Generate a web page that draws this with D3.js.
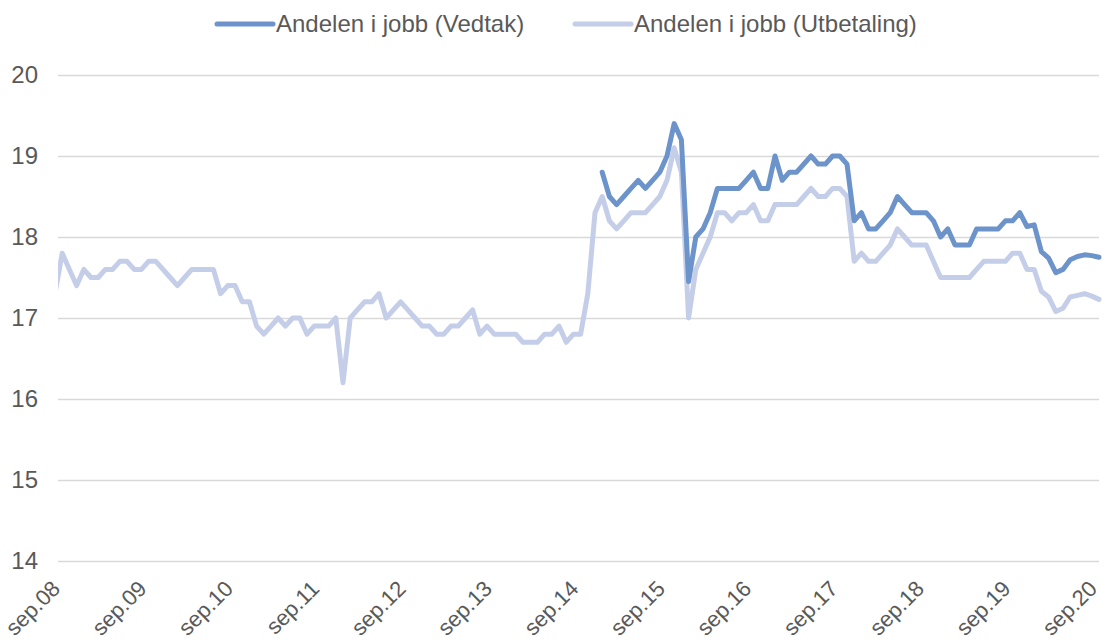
<!DOCTYPE html>
<html>
<head>
<meta charset="utf-8">
<script src="https://cdn.jsdelivr.net/npm/d3@7"></script>
<style>
  html, body { margin: 0; padding: 0; background: #fff; }
  svg { display: block; font-family: "Liberation Sans", Arial, sans-serif; }
</style>
</head>
<body>
<svg id="chart" width="1102" height="641"></svg>
<script>
// Andelen i jobb, monthly from sep.08
var seriesNames = ["Andelen i jobb (Vedtak)", "Andelen i jobb (Utbetaling)"];
var seriesColours = ["#6c94ca", "#c5cee9"];

var utbetaling = [
  17.3, 17.8, 17.6, 17.4, 17.6, 17.5, 17.5, 17.6, 17.6, 17.7, 17.7, 17.6,
  17.6, 17.7, 17.7, 17.6, 17.5, 17.4, 17.5, 17.6, 17.6, 17.6, 17.6, 17.3,
  17.4, 17.4, 17.2, 17.2, 16.9, 16.8, 16.9, 17.0, 16.9, 17.0, 17.0, 16.8,
  16.9, 16.9, 16.9, 17.0, 16.2, 17.0, 17.1, 17.2, 17.2, 17.3, 17.0, 17.1,
  17.2, 17.1, 17.0, 16.9, 16.9, 16.8, 16.8, 16.9, 16.9, 17.0, 17.1, 16.8,
  16.9, 16.8, 16.8, 16.8, 16.8, 16.7, 16.7, 16.7, 16.8, 16.8, 16.9, 16.7,
  16.8, 16.8, 17.3, 18.3, 18.5, 18.2, 18.1, 18.2, 18.3, 18.3, 18.3, 18.4,
  18.5, 18.7, 19.1, 18.8, 17.0, 17.6, 17.8, 18.0, 18.3, 18.3, 18.2, 18.3,
  18.3, 18.4, 18.2, 18.2, 18.4, 18.4, 18.4, 18.4, 18.5, 18.6, 18.5, 18.5,
  18.6, 18.6, 18.5, 17.7, 17.8, 17.7, 17.7, 17.8, 17.9, 18.1, 18.0, 17.9,
  17.9, 17.9, 17.7, 17.5, 17.5, 17.5, 17.5, 17.5, 17.6, 17.7, 17.7, 17.7,
  17.7, 17.8, 17.8, 17.6, 17.6, 17.33, 17.26, 17.08, 17.12, 17.26, 17.28, 17.3,
  17.27, 17.23
];

// Vedtak starts later (first value is month index 76)
var vedtakStart = 76;
var vedtak = [
  18.8, 18.5, 18.4, 18.5, 18.6, 18.7, 18.6, 18.7, 18.8, 19.0,
  19.4, 19.2, 17.45, 18.0, 18.1, 18.3, 18.6, 18.6, 18.6, 18.6,
  18.7, 18.8, 18.6, 18.6, 19.0, 18.7, 18.8, 18.8, 18.9, 19.0,
  18.9, 18.9, 19.0, 19.0, 18.9, 18.2, 18.3, 18.1, 18.1, 18.2,
  18.3, 18.5, 18.4, 18.3, 18.3, 18.3, 18.2, 18.0, 18.1, 17.9,
  17.9, 17.9, 18.1, 18.1, 18.1, 18.1, 18.2, 18.2, 18.3, 18.13,
  18.15, 17.82, 17.74, 17.56, 17.6, 17.72, 17.76, 17.78, 17.77, 17.75
];

var xTickLabels = ["sep.08", "sep.09", "sep.10", "sep.11", "sep.12", "sep.13", "sep.14",
  "sep.15", "sep.16", "sep.17", "sep.18", "sep.19", "sep.20"];
var yTicks = [14, 15, 16, 17, 18, 19, 20];

var textColour = "#595959";
var gridColour = "#d9d9d9";

var svg = d3.select("#chart");
var plotLeft = 58, plotRight = 1099;

var x = d3.scaleLinear()
  .domain([0, utbetaling.length - 1])
  .range([55, 1099]);

var y = d3.scaleLinear()
  .domain([14, 20])
  .range([561, 75]);

// clip so the first segment starts at the plot edge
svg.append("defs").append("clipPath")
  .attr("id", "plot-clip")
  .append("rect")
  .attr("x", plotLeft).attr("y", 0)
  .attr("width", 1102 - plotLeft).attr("height", 641);

// y axis with gridlines
var yAxis = svg.append("g")
  .attr("transform", "translate(" + plotLeft + ",0)")
  .call(d3.axisLeft(y)
    .tickValues(yTicks)
    .tickSize(-(plotRight - plotLeft))
    .tickPadding(20)
    .tickFormat(d3.format("d")));
yAxis.select(".domain").remove();
yAxis.selectAll(".tick line")
  .attr("stroke", gridColour)
  .attr("stroke-width", 1.6);
yAxis.selectAll(".tick text")
  .attr("fill", textColour)
  .style("font-size", "24px");

// x axis labels, rotated
var xAxis = svg.append("g")
  .attr("transform", "translate(6,561)")
  .call(d3.axisBottom(x)
    .tickValues(xTickLabels.map(function(d, i) { return i * 12; }))
    .tickSize(0)
    .tickFormat(function(d, i) { return xTickLabels[i]; }));
xAxis.select(".domain").remove();
xAxis.selectAll(".tick text")
  .attr("fill", textColour)
  .style("font-size", "22px")
  .attr("text-anchor", "end")
  .attr("dy", null)
  .attr("y", 0)
  .attr("transform", "translate(0,29) rotate(-45)");

// lines
var utbLine = d3.line()
  .x(function(d, i) { return x(i); })
  .y(function(d) { return y(d); });

var vedLine = d3.line()
  .x(function(d, i) { return x(i + vedtakStart); })
  .y(function(d) { return y(d); });

var lines = svg.append("g").attr("clip-path", "url(#plot-clip)");

lines.append("path")
  .datum(utbetaling)
  .attr("d", utbLine)
  .attr("fill", "none")
  .attr("stroke", seriesColours[1])
  .attr("stroke-width", 5)
  .attr("stroke-linejoin", "round")
  .attr("stroke-linecap", "round");

lines.append("path")
  .datum(vedtak)
  .attr("d", vedLine)
  .attr("fill", "none")
  .attr("stroke", seriesColours[0])
  .attr("stroke-width", 5)
  .attr("stroke-linejoin", "round")
  .attr("stroke-linecap", "round");

// legend
var legendX = [217, 575];
var legend = svg.append("g");
var items = legend.selectAll("g")
  .data(seriesNames)
  .enter().append("g")
  .attr("transform", function(d, i) { return "translate(" + legendX[i] + ",24)"; });

items.append("line")
  .attr("x1", 0).attr("x2", 56)
  .attr("stroke", function(d, i) { return seriesColours[i]; })
  .attr("stroke-width", 5)
  .attr("stroke-linecap", "round");

items.append("text")
  .attr("x", 59)
  .attr("dy", "0.35em")
  .attr("fill", textColour)
  .style("font-size", "24px")
  .text(function(d) { return d; });
</script>
</body>
</html>
